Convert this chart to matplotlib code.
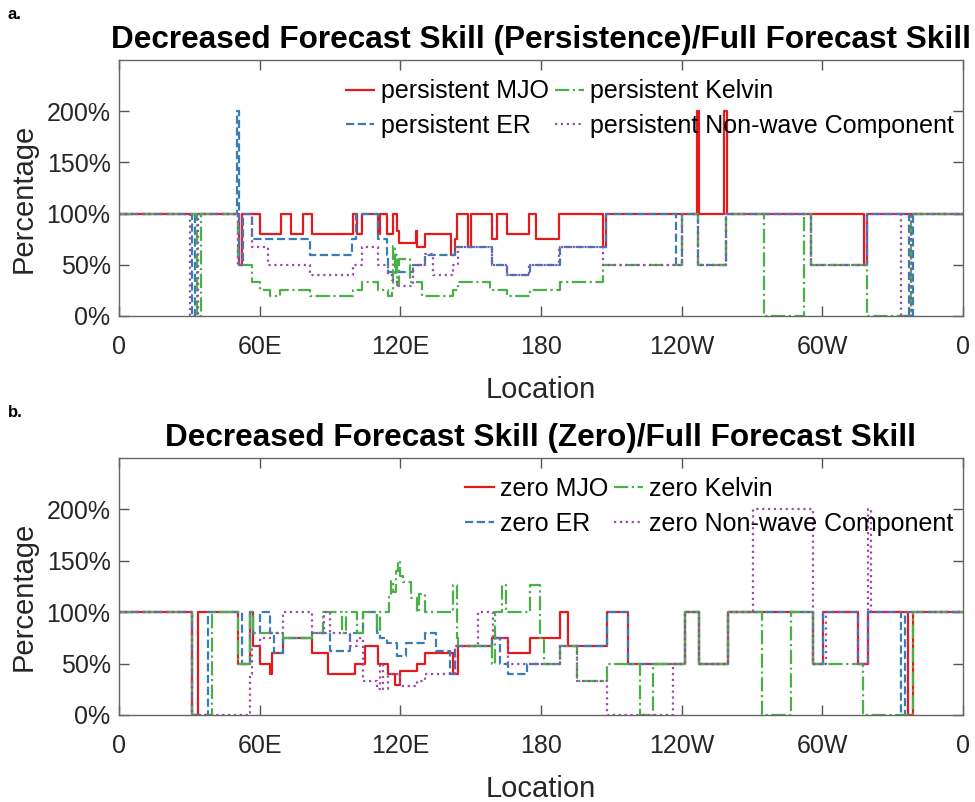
import matplotlib
matplotlib.use('Agg')
import matplotlib.pyplot as plt

plt.rcParams['font.family'] = ['Liberation Sans', 'DejaVu Sans']

# ---------------- axis labels / ticks ----------------
xticks = [0, 60, 120, 180, 240, 300, 360]
xticklabels = ['0', '60E', '120E', '180', '120W', '60W', '0']
yticks = [0, 50, 100, 150, 200]
yticklabels = ['0%', '50%', '100%', '150%', '200%']

# ---------------- panel a : persistent ----------------
mjo_a_lon = [0, 51, 52.5, 60, 69.3, 73.6, 78.6, 82.2, 100, 101.4, 103.5, 110.6, 111.3, 114.2, 117,
             118.4, 119.6, 126.7, 127.2, 130.5, 141.5, 143.3, 144.3, 149, 150, 159, 161.1, 165.4,
             175, 177.8, 187.8, 206.3, 207.7, 246.4, 247.6, 258.3, 259.5, 317.9, 319.2, 360]
mjo_a_val = [100, 50, 100, 80, 100, 80, 100, 80, 100, 80, 100, 80, 100, 80, 100,
             83, 71, 83, 67, 80, 60, 75, 100, 67, 100, 75, 100, 80,
             100, 75, 100, 67, 100, 200, 100, 200, 100, 50, 100, 100]

er_a_lon = [0, 31, 32.5, 50.4, 51.2, 53, 56.6, 81.5, 99.5, 101, 110.6, 114.2, 114.9, 125.5, 130.5,
            143.3, 159, 165.4, 175.3, 188.1, 207.7, 237.6, 240.1, 246.8, 259.1, 295.1, 318.9,
            337, 338.5, 360]
er_a_val = [100, 0, 100, 200, 50, 100, 75, 60, 75, 100, 75, 60, 43, 50, 60,
            67, 50, 40, 50, 67, 100, 50, 100, 50, 100, 50, 100,
            0, 100, 100]

kel_a_lon = [0, 33.5, 35, 50.9, 56.6, 60.1, 64.4, 68.7, 81.6, 99.9, 103.5, 110.6, 114.9, 116.3,
             117, 117.6, 118.2, 118.8, 119.4, 124.1, 129.1, 142.6, 144.7, 158.2, 165.4, 175.3,
             188.1, 206.6, 240.1, 246.8, 259.1, 275.2, 292.2, 295.1, 318.9, 338, 360]
kel_a_val = [100, 0, 100, 50, 33, 25, 20, 25, 20, 25, 33, 25, 20, 25,
             68, 40, 60, 30, 56, 33, 20, 25, 33, 25, 20, 25,
             33, 50, 100, 50, 100, 0, 100, 50, 0, 100, 100]

non_a_lon = [0, 30.4, 33.9, 50.9, 52.3, 56.6, 63.5, 81.5, 99.9, 103.5, 110.6, 114.9, 116.3, 118.4,
             125.5, 130.5, 134.1, 142.6, 144.7, 159, 165.4, 175, 187.8, 206.3, 240.1, 246.8,
             259.1, 295.1, 318.9, 333.8, 338, 360]
non_a_val = [100, 0, 100, 50, 100, 67, 50, 40, 50, 67, 50, 40, 35, 29,
             50, 61, 40, 50, 67, 50, 40, 50, 67, 50, 100, 50,
             100, 50, 100, 0, 100, 100]

# ---------------- panel b : zero ----------------
mjo_b_lon = [0, 31, 33.8, 50.9, 55.9, 57.3, 60.1, 64.6, 65.1, 69.8, 82.2, 89.3, 100.7, 104.9, 110.6,
             114.9, 117.7, 119.8, 127, 130.5, 142.6, 144.7, 159, 166, 175.3, 188.1, 191.6, 208,
             217.2, 241.4, 247.5, 259.9, 296.1, 300.4, 315.3, 319.6, 336.6, 338.8, 360]
mjo_b_val = [100, 0, 100, 50, 100, 67, 50, 40, 60, 75, 60, 40, 50, 67, 50,
             40, 29, 43, 50, 60, 40, 67, 75, 60, 75, 100, 67, 100,
             50, 100, 50, 100, 50, 100, 50, 100, 0, 100, 100]

er_b_lon = [0, 31, 38.1, 52.3, 55.9, 57.3, 60.1, 64.4, 66, 69.8, 82.2, 90, 98.5, 104.2, 109.9,
            111.3, 114.2, 118.4, 122.6, 130.5, 135.1, 141.2, 143.3, 159, 162.5, 166, 173.9, 188.1,
            208, 217.2, 241.4, 247.5, 259.9, 296.1, 300.4, 315.3, 319.6, 333.8, 335.2, 360]
er_b_val = [100, 0, 100, 50, 100, 80, 100, 80, 60, 75, 80, 62, 80, 100, 80,
            75, 70, 57, 70, 80, 62, 40, 67, 75, 50, 40, 50, 67,
            100, 50, 100, 50, 100, 50, 100, 50, 100, 0, 100, 100]

kel_b_lon = [0, 31, 39.5, 50.9, 55.9, 57.3, 69.8, 82.2, 87, 95, 97, 101.4, 104.2, 109.9, 111.3,
             115, 116, 117, 118, 119, 120, 121, 124.5, 127, 128, 130.5, 142.6, 144.2, 144.7,
             159, 160.4, 163.5, 165, 175.3, 179.8, 181.2, 188.1, 195.3, 208, 222.2, 227.9,
             241.4, 247.5, 259.9, 274.5, 286.5, 296.1, 317.4, 338.8, 360]
kel_b_val = [100, 0, 100, 50, 100, 80, 75, 80, 100, 80, 100, 80, 100, 80, 100,
             115, 130, 120, 140, 150, 135, 129, 114, 100, 118, 100, 126, 75, 67,
             50, 100, 126, 100, 126, 75, 50, 67, 33, 50, 0, 50,
             100, 50, 100, 0, 100, 50, 0, 100, 100]

non_b_lon = [0, 31, 55.9, 56.6, 60.1, 64.4, 70.1, 82.2, 87.5, 90, 98.5, 101.4, 104.2, 109.9,
             111.3, 112.7, 114.9, 119.8, 127, 130.5, 143.3, 144.7, 153.3, 159.7, 166, 175.3,
             188.1, 195.3, 208, 236.4, 241.4, 247.5, 259.9, 270.5, 296.1, 301.5, 315.3, 319.6,
             321, 360]
non_b_val = [100, 0, 40, 67, 75, 80, 100, 80, 100, 80, 67, 75, 33, 25,
             50, 25, 40, 28, 33, 40, 67, 67, 100, 75, 50, 50,
             67, 33, 0, 50, 100, 50, 100, 200, 50, 100, 50, 200,
             100, 100]

colors = ['#e41a1c', '#377eb8', '#4daf4a', '#984ea3']
styles = ['-', '--', '-.', ':']

fig = plt.figure(figsize=(9.75, 8.02), dpi=100)
ax_a = fig.add_axes([0.122, 0.606, 0.8656, 0.319])
ax_b = fig.add_axes([0.122, 0.1085, 0.8656, 0.3204])

panels = [
    (ax_a,
     [(mjo_a_lon, mjo_a_val), (er_a_lon, er_a_val), (kel_a_lon, kel_a_val), (non_a_lon, non_a_val)],
     ['persistent MJO', 'persistent ER', 'persistent Kelvin', 'persistent Non-wave Component'],
     'Decreased Forecast Skill (Persistence)/Full Forecast Skill'),
    (ax_b,
     [(mjo_b_lon, mjo_b_val), (er_b_lon, er_b_val), (kel_b_lon, kel_b_val), (non_b_lon, non_b_val)],
     ['zero MJO', 'zero ER', 'zero Kelvin', 'zero Non-wave Component'],
     'Decreased Forecast Skill (Zero)/Full Forecast Skill'),
]

for ax, series, labels, title in panels:
    for (lon, val), c, ls, lab in zip(series, colors, styles, labels):
        ax.step(lon, val, where='post', color=c, linestyle=ls, lw=1.6, label=lab)
    ax.set_xlim(0, 360)
    ax.set_ylim(0, 250)
    ax.set_xticks(xticks)
    ax.set_xticklabels(xticklabels)
    ax.set_yticks(yticks)
    ax.set_yticklabels(yticklabels)
    ax.tick_params(direction='in', length=7, width=1, colors='#555555', labelcolor='#262626',
                   labelsize=18, top=True, right=True)
    ax.tick_params(axis='x', pad=14)
    ax.tick_params(axis='y', pad=6)
    for s in ax.spines.values():
        s.set_color('#666666')
        s.set_linewidth(1.0)
    ax.set_xlabel('Location', fontsize=21, color='#262626', labelpad=12)
    ax.set_ylabel('Percentage', fontsize=21, color='#262626')
    ax.yaxis.set_label_coords(-0.096, 0.46)
    ax.set_title(title, fontsize=22.7, fontweight='bold', pad=9)
    ax.legend(loc='upper right', bbox_to_anchor=(0.992, 0.935), ncol=2, frameon=False,
              fontsize=18, handlelength=1.15, handletextpad=0.25, columnspacing=0.25,
              labelspacing=0.42, borderpad=0.1, borderaxespad=0)

fig.text(0.008, 0.976, 'a.', fontsize=12, fontweight='bold')
fig.text(0.008, 0.480, 'b.', fontsize=12, fontweight='bold')

fig.savefig('out.png', dpi=100)
